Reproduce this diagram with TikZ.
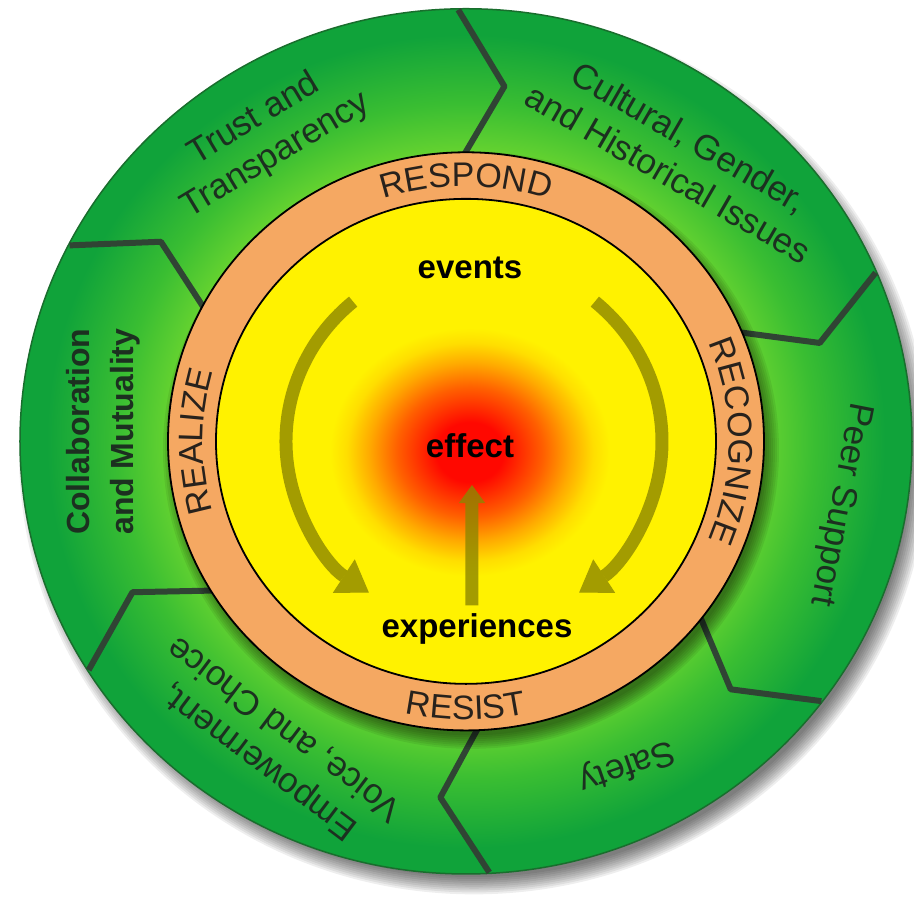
\documentclass[tikz,border=0pt]{standalone}
\usepackage{fontspec}
\setmainfont{Liberation Sans}
\usetikzlibrary{arrows.meta,decorations.text}

\definecolor{gdark}{RGB}{16,163,58}
\definecolor{gmid}{RGB}{58,190,50}
\definecolor{glight}{RGB}{104,212,48}
\definecolor{rimgreen}{RGB}{25,110,45}
\definecolor{ringorange}{RGB}{245,168,98}
\definecolor{coreyellow}{RGB}{255,242,0}
\definecolor{hotred}{RGB}{255,8,0}
\definecolor{hotorange}{RGB}{255,95,0}
\definecolor{hotamber}{RGB}{255,170,0}
\definecolor{hotgold}{RGB}{255,222,0}
\definecolor{flowolive}{RGB}{140,135,0}
\definecolor{seamgray}{RGB}{48,68,52}
\definecolor{labelink}{RGB}{28,48,32}
\definecolor{ringink}{RGB}{40,34,28}

\pgfdeclareradialshading{greenring}{\pgfpoint{0bp}{0bp}}{color(0bp)=(glight); color(16.5bp)=(glight); color(19.5bp)=(gmid); color(23.5bp)=(gdark); color(50bp)=(gdark)}
\pgfdeclareradialshading{hotspot}{\pgfpoint{0bp}{0bp}}{color(0bp)=(hotred); color(6bp)=(hotred); color(13bp)=(hotorange); color(18bp)=(hotamber); color(22bp)=(hotgold); color(25bp)=(coreyellow); color(50bp)=(coreyellow)}

\newcommand\segfont{\fontsize{35}{42}\selectfont}
\newcommand\ringfont{\fontsize{34}{34}\selectfont\color{ringink}}
\newcommand\corefont{\fontsize{33}{33}\selectfont\bfseries}

\begin{document}
\begin{tikzpicture}[x=1pt, y=0.97pt,
    seam/.style={seamgray, line width=6pt, line join=round},
    flow/.style={flowolive, line width=13pt},
    seglabel/.style={text=labelink, font=\segfont, align=center},
    corelabel/.style={font=\corefont, anchor=base, inner sep=0pt},
    ringtext/.style={decorate, decoration={text along path, text={|\ringfont|#1}, text align=center}}]
  \path[fill=white, use as bounding box] (-466,-471) rectangle (448,455);
  \coordinate (core) at (0,0);
  \coordinate (hub) at (8,0);
  \foreach \k in {0,...,9}
    \fill[black, opacity=0.065] (8,-12) circle (437+2*\k);
  \shade[shading=greenring] (core) circle (446);
  \draw[rimgreen, line width=1.5pt] (core) circle (446);
  \foreach \b in {153,91,23,-37,-87,-148}
    \draw[seam] (\b:290) -- (\b-7:368) -- (\b:445);
  \foreach \k in {0,...,7}
    \fill[black, opacity=0.07] (5,-9) circle (294+2*\k);
  \filldraw[fill=ringorange, draw=black, line width=1.8pt] (core) circle (298);
  \filldraw[fill=coreyellow, draw=black, line width=1.8pt] (core) circle (250);
  \shade[shading=hotspot] (4,-11) ellipse (140 and 128);

  \begin{scope}[transparency group, opacity=0.8]
    \draw[flow, -{Triangle[length=30pt, width=40pt, line width=1pt]}] ([shift={(130:188)}]hub) arc[start angle=130, end angle=236, radius=188];
    \draw[flow, -{Triangle[length=30pt, width=40pt, line width=1pt]}] ([shift={(50:188)}]hub) arc[start angle=50, end angle=-56, radius=188];
    \coordinate (risefoot) at (6,-169);
    \coordinate (risetip) at (6,-45);
    \draw[flow, -{Triangle[length=18pt, width=26pt, line width=1pt]}] (risefoot) -- (risetip);
  \end{scope}

  \node[corelabel] (events) at (4,168) {events};
  \node[corelabel] (effect) at (4,-16.5) {effect};
  \node[corelabel] (experiences) at (11,-202) {experiences};

  \path[ringtext=RESPOND] ([shift={(125:263)}]core) arc[start angle=125, end angle=55, radius=263];
  \path[ringtext=RECOGNIZE] ([shift={(35:263)}]core) arc[start angle=35, end angle=-35, radius=263];
  \path[ringtext=REALIZE] ([shift={(215:263)}]core) arc[start angle=215, end angle=145, radius=263];
  \path[ringtext=RESIST] ([shift={(235:287)}]core) arc[start angle=235, end angle=305, radius=287];

  \node[seglabel, rotate=31] (trust) at (-201,313) {Trust and\\Transparency};
  \node[seglabel, rotate=-30] (cultural) at (213,295) {Cultural, Gender,\\and Historical Issues};
  \node[seglabel, rotate=-101] (peer) at (374,-65) {Peer Support};
  \node[seglabel, rotate=199] (safety) at (161,-334) {Safety};
  \node[seglabel, rotate=143] (empower) at (-194,-313) {Empowerment,\\Voice, and Choice};
  \node[seglabel, font=\fontsize{32}{44}\selectfont\bfseries, rotate=90] (collab) at (-363,10) {Collaboration\\and Mutuality};
\end{tikzpicture}
\end{document}
